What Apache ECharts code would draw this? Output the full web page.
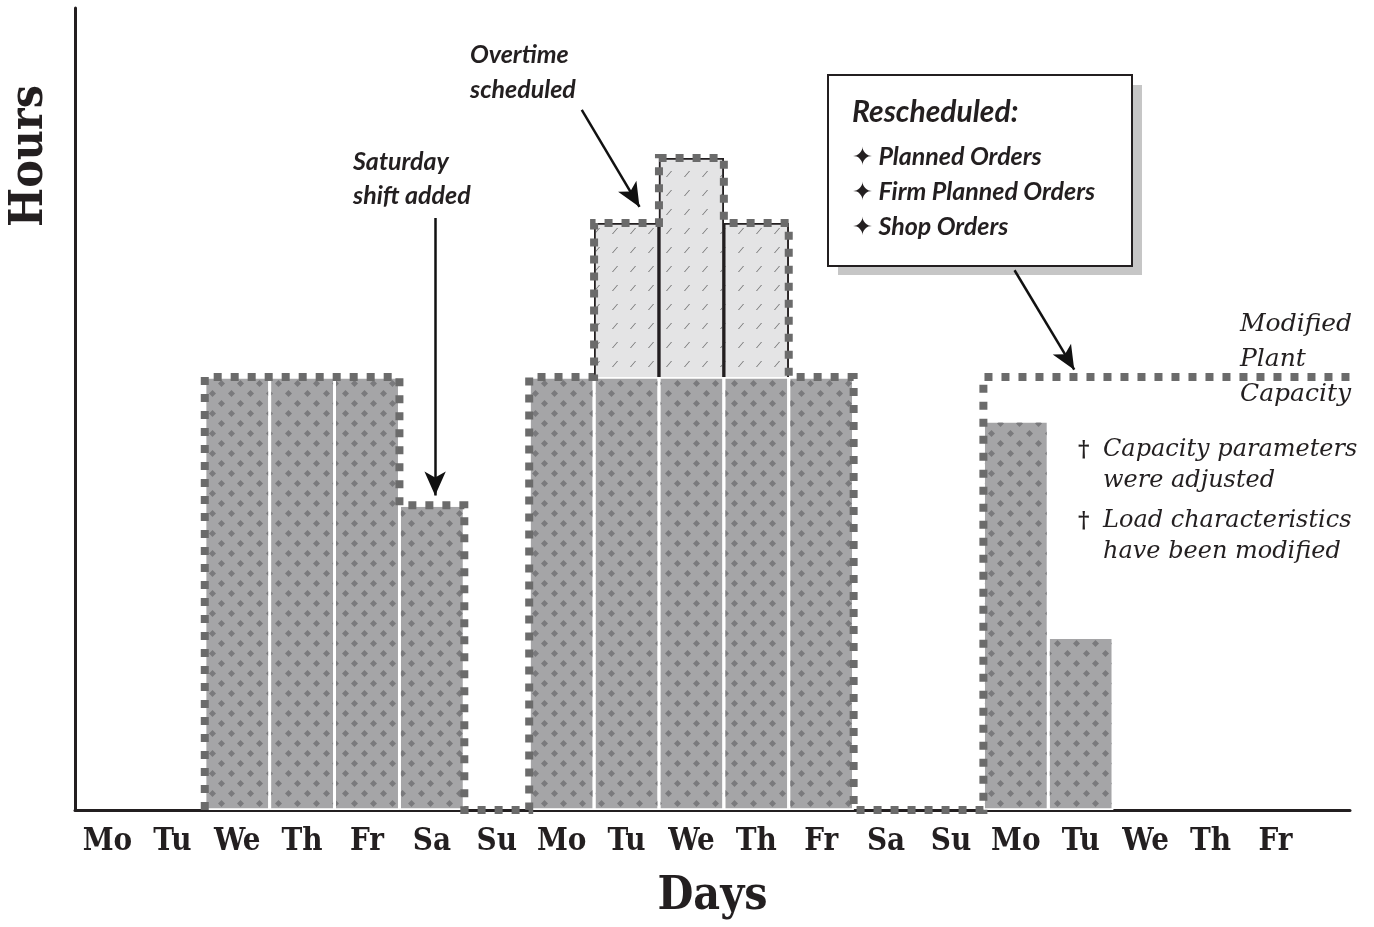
<!DOCTYPE html>
<html lang="en">
<head>
<meta charset="UTF-8">
<title>Capacity plan</title>
<script src="https://cdn.jsdelivr.net/npm/echarts@6/dist/echarts.min.js"></script>
<style>
  html, body { margin: 0; padding: 0; background: #fff; }
  #main { width: 1374px; height: 927px; }
</style>
</head>
<body>
<div id="main"></div>
<script>
// day labels, three weeks
var days = ['Mo', 'Tu', 'We', 'Th', 'Fr', 'Sa', 'Su',
            'Mo', 'Tu', 'We', 'Th', 'Fr', 'Sa', 'Su',
            'Mo', 'Tu', 'We', 'Th', 'Fr'];
// load hours per day (dark bars)
var load = [0, 0, 54, 54, 54, 38, 0,
            54, 54, 54, 54, 54, 0, 0,
            48.5, 21.5, 0, 0, 0];
// overtime on top of load (light bars)
var overtime = [0, 0, 0, 0, 0, 0, 0,
                0, 19.2, 27.3, 19.2, 0, 0, 0,
                0, 0, 0, 0, 0];
// capacity outline (dotted line), null = not drawn
var capacity = [null, null, 54, 54, 54, 38, 0,
                54, 73.2, 81.3, 73.2, 54, 0, 0,
                54, 54, 54, 54, 54];
var xMax = 19.65;

var ink = '#231f20';
var myChart = echarts.init(document.getElementById('main'));

// step outline through the library's value axis
var outline = [];
for (var i = 0; i < capacity.length; i++) {
  if (capacity[i] === null) continue;
  if (!outline.length) outline.push([i, 0]);
  outline.push([i, capacity[i]]);
  outline.push([i + 1, capacity[i]]);
}
outline.push([xMax, capacity[capacity.length - 1]]);

// empty days get no bar (so the white border does not hide the axis)
var loadData = load.map(function (v, i) { return v ? [i + 0.5, v] : null; })
  .filter(function (d) { return d; });
// light bars drawn to load + overtime, behind the load bars
var otData = overtime.map(function (v, i) { return v ? [i + 0.5, load[i] + v] : null; })
  .filter(function (d) { return d; });
var labelAt = days.map(function (d, i) { return i + 0.5; });

var sans = "Lato, 'Open Sans', 'DejaVu Sans', sans-serif";
var serif = "'DejaVu Serif', serif";
var slab = "'DejaVu Serif Condensed', 'DejaVu Serif', serif";

function txt(x, y, s, opt) {
  opt = opt || {};
  return {
    type: 'text', x: x, y: y, silent: true,
    style: {
      text: s,
      fill: ink,
      font: (opt.font || 'italic bold 25px ' + sans),
      textAlign: opt.align || 'left',
      textVerticalAlign: 'middle'
    }
  };
}

option = {
  animation: false,
  backgroundColor: '#fff',
  grid: { left: 75, right: 24, top: 8, bottom: 117 },
  xAxis: {
    type: 'value',
    min: 0,
    max: xMax,
    name: 'Days',
    nameLocation: 'middle',
    nameGap: 64,
    nameTextStyle: { fontFamily: slab, fontWeight: 'bold', fontSize: 46, color: ink, lineHeight: 46 },
    axisLine: { show: true, lineStyle: { color: ink, width: 3 } },
    axisTick: { show: false },
    splitLine: { show: false },
    axisLabel: {
      customValues: labelAt,
      formatter: function (v) { return days[Math.floor(v)]; },
      fontFamily: slab,
      fontWeight: 'bold',
      fontSize: 31,
      lineHeight: 32,
      margin: 16,
      color: ink
    }
  },
  yAxis: {
    type: 'value',
    min: 0,
    max: 100,
    axisLine: { show: true, lineStyle: { color: ink, width: 3 } },
    axisTick: { show: false },
    axisLabel: { show: false },
    splitLine: { show: false }
  },
  graphic: [
    {
      type: 'text', x: 30, y: 156, rotation: Math.PI / 2, silent: true,
      style: { text: 'Hours', fill: ink, font: 'bold 46px ' + slab, textAlign: 'center', textVerticalAlign: 'middle' }
    },
    txt(470, 55, 'Overtime'),
    txt(470, 90, 'scheduled'),
    txt(353, 162, 'Saturday'),
    txt(353, 196, 'shift added'),
    { type: 'rect', silent: true, shape: { x: 838, y: 85, width: 304, height: 190 }, style: { fill: '#c6c6c6' } },
    { type: 'rect', silent: true, shape: { x: 828, y: 75, width: 304, height: 191 }, style: { fill: '#fff', stroke: ink, lineWidth: 2 } },
    txt(852, 112, 'Rescheduled:', { font: 'italic bold 30px ' + sans }),
    txt(852, 157, '\u2726 Planned Orders'),
    txt(852, 192, '\u2726 Firm Planned Orders'),
    txt(852, 227, '\u2726 Shop Orders'),
    txt(1240, 324, 'Modified', { font: 'italic 25px ' + serif }),
    txt(1240, 359, 'Plant', { font: 'italic 25px ' + serif }),
    txt(1240, 394, 'Capacity', { font: 'italic 25px ' + serif }),
    txt(1078, 450, '\u2020', { font: 'bold 22px ' + serif }),
    txt(1103, 450, 'Capacity parameters', { font: 'italic 24px ' + serif }),
    txt(1103, 481, 'were adjusted', { font: 'italic 24px ' + serif }),
    txt(1078, 521, '\u2020', { font: 'bold 22px ' + serif }),
    txt(1103, 521, 'Load characteristics', { font: 'italic 24px ' + serif }),
    txt(1103, 552, 'have been modified', { font: 'italic 24px ' + serif })
  ],
  series: [
    {
      name: 'Overtime',
      type: 'bar',
      barWidth: 65,
      z: 2,
      data: otData,
      itemStyle: {
        color: '#e4e4e5',
        borderColor: ink,
        borderWidth: 1.5,
        decal: {
          symbol: 'path://M0,10 L1.6,10 L10,0 L8.4,0 Z',
          symbolSize: 1,
          color: '#707070',
          dashArrayX: [6, 11.6],
          dashArrayY: [6, 12.2]
        }
      }
    },
    {
      name: 'Load',
      type: 'bar',
      barWidth: 65,
      barGap: '-100%',
      z: 3,
      data: loadData,
      itemStyle: {
        color: '#a5a5a7',
        borderColor: '#fff',
        borderWidth: 1.5,
        decal: {
          symbol: 'diamond',
          symbolSize: 1,
          color: '#7a7a7d',
          dashArrayX: [[6.5, 11.1], [0, 8.8, 6.5, 2.3]],
          dashArrayY: [6.5, 2.3]
        }
      }
    },
    {
      name: 'Capacity',
      type: 'line',
      z: 5,
      data: outline,
      symbol: 'none',
      lineStyle: { color: '#6b6b6b', width: 8, type: [8, 9], cap: 'butt', join: 'miter' },
      markLine: {
        silent: true,
        symbol: ['none', 'arrow'],
        symbolSize: [16, 24],
        label: { show: false },
        lineStyle: { color: '#111', width: 2.5, type: 'solid' },
        itemStyle: { color: '#111' },
        data: [
          [{ coord: [5.55, 73.8] }, { coord: [5.55, 39.2] }],
          [{ coord: [7.81, 87.3] }, { coord: [8.7, 75.2] }],
          [{ coord: [14.48, 67.3] }, { coord: [15.4, 54.9] }]
        ]
      }
    }
  ]
};
myChart.setOption(option);
</script>
</body>
</html>
